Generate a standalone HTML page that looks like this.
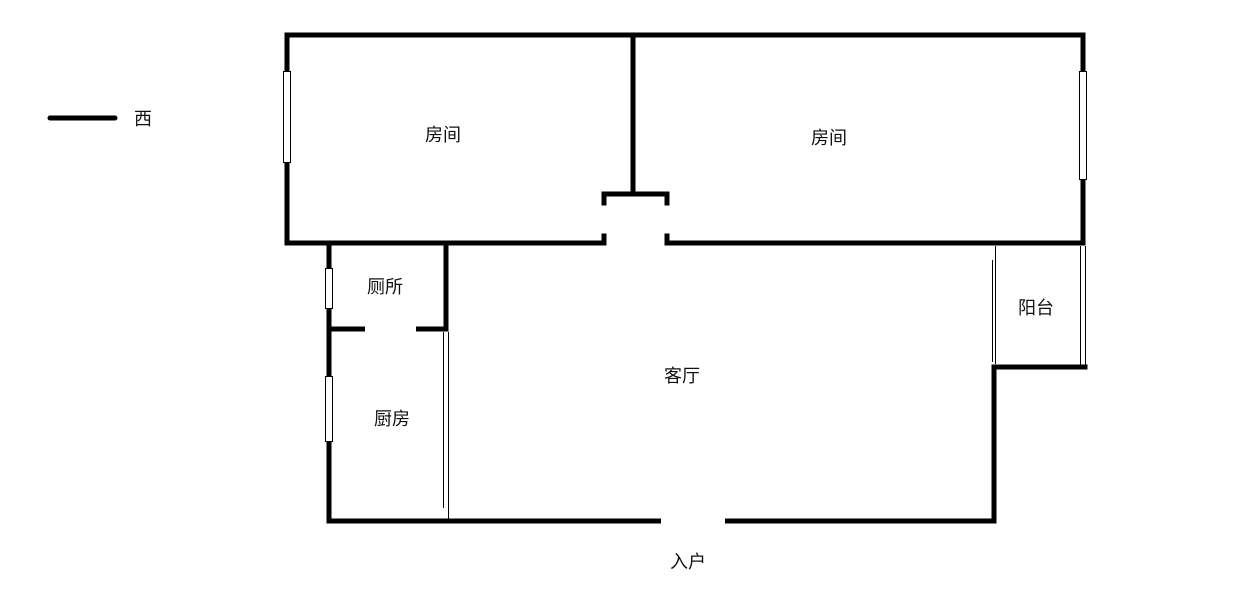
<!DOCTYPE html>
<html><head><meta charset="utf-8"><style>
html,body{margin:0;padding:0;background:#fff;width:1249px;height:615px;overflow:hidden}
text{font-family:"Liberation Sans","Noto Sans CJK SC",sans-serif;font-size:18px;fill:#111}
</style></head><body>
<svg width="1249" height="615" viewBox="0 0 1249 615" xmlns="http://www.w3.org/2000/svg">
<g stroke="#000" stroke-width="5" fill="none" stroke-linecap="square">
<line x1="50" y1="118" x2="115" y2="118" stroke-linecap="round"/>
<!-- top -->
<line x1="287" y1="35" x2="1083" y2="35"/>
<line x1="287" y1="35" x2="287" y2="243"/>
<line x1="1083" y1="35" x2="1083" y2="243"/>
<line x1="633" y1="35" x2="633" y2="194"/>
<polyline points="604,203 604,194 667,194 667,203"/>
<polyline points="287,243 604,243 604,236"/>
<polyline points="667,236 667,243 1083,243"/>
<!-- left lower -->
<line x1="329" y1="243" x2="329" y2="521"/>
<line x1="446" y1="243" x2="446" y2="329"/>
<line x1="329" y1="329" x2="365" y2="329" stroke-linecap="butt"/>
<line x1="416" y1="329" x2="446" y2="329" stroke-linecap="butt"/>
<!-- bottom -->
<line x1="329" y1="521" x2="661" y2="521" stroke-linecap="butt"/>
<line x1="725" y1="521" x2="994" y2="521" stroke-linecap="butt"/>
<line x1="994" y1="367" x2="994" y2="521"/>
<line x1="994" y1="367" x2="1085" y2="367"/>
</g>
<g stroke="#000" stroke-width="1" fill="none">
<line x1="443.5" y1="332" x2="443.5" y2="508"/>
<line x1="448.5" y1="332" x2="448.5" y2="521"/>
<line x1="995.5" y1="246" x2="995.5" y2="364"/>
<line x1="992.5" y1="260" x2="992.5" y2="362"/>
<line x1="1080.5" y1="246" x2="1080.5" y2="365"/>
<line x1="1085.5" y1="246" x2="1085.5" y2="365"/>
</g>
<g stroke="#000" stroke-width="1" fill="#fff">
<rect x="283.5" y="71.5" width="7" height="91"/>
<rect x="1079.5" y="71.5" width="7" height="108"/>
<rect x="325.5" y="268.5" width="7" height="40"/>
<rect x="325.5" y="376.5" width="7" height="65"/>
</g>
<text x="134" y="125">西</text>
<text x="425" y="141">房间</text>
<text x="811" y="144">房间</text>
<text x="367" y="293">厕所</text>
<text x="374" y="425">厨房</text>
<text x="664" y="382">客厅</text>
<text x="1018" y="314">阳台</text>
<text x="670" y="568">入户</text>
</svg>
</body></html>
